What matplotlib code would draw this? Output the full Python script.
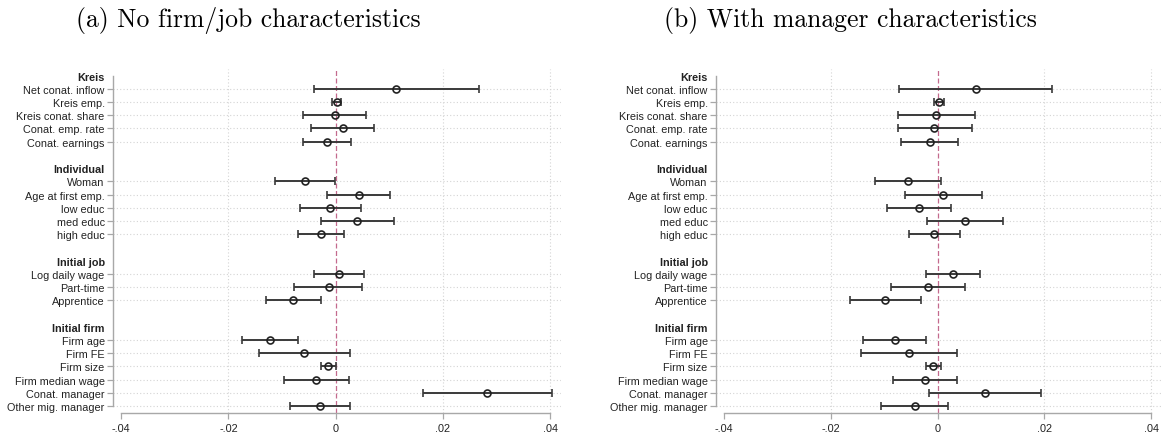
import numpy as np
import matplotlib
matplotlib.use("Agg")
import matplotlib.pyplot as plt

# variable groups (header, items)
group_names = ["Kreis", "Individual", "Initial job", "Initial firm"]
kreis_labels = ["Net conat. inflow", "Kreis emp.", "Kreis conat. share",
                "Conat. emp. rate", "Conat. earnings"]
indiv_labels = ["Woman", "Age at first emp.", "low educ", "med educ", "high educ"]
job_labels = ["Log daily wage", "Part-time", "Apprentice"]
firm_labels = ["Firm age", "Firm FE", "Firm size", "Firm median wage",
               "Conat. manager", "Other mig. manager"]

# (a) No firm/job characteristics
coef_a = [0.0113, 0.0002, -0.0001, 0.0013, -0.0016,
          -0.0058, 0.0043, -0.0010, 0.0040, -0.0028,
          0.0006, -0.0013, -0.0079,
          -0.0123, -0.0059, -0.0014, -0.0036, 0.0283, -0.0030]
lo_a = [-0.0041, -0.0007, -0.0060, -0.0046, -0.0060,
        -0.0113, -0.0016, -0.0067, -0.0027, -0.0071,
        -0.0041, -0.0077, -0.0130,
        -0.0175, -0.0143, -0.0027, -0.0097, 0.0163, -0.0086]
hi_a = [0.0268, 0.0010, 0.0057, 0.0072, 0.0028,
        -0.0002, 0.0102, 0.0047, 0.0108, 0.0016,
        0.0053, 0.0050, -0.0027,
        -0.0070, 0.0026, 0.0000, 0.0024, 0.0404, 0.0027]

# (b) With manager characteristics
coef_b = [0.0071, 0.0003, -0.0003, -0.0006, -0.0015,
          -0.0056, 0.0010, -0.0035, 0.0051, -0.0007,
          0.0029, -0.0018, -0.0098,
          -0.0080, -0.0054, -0.0008, -0.0024, 0.0089, -0.0043]
lo_b = [-0.0072, -0.0006, -0.0075, -0.0075, -0.0068,
        -0.0117, -0.0062, -0.0095, -0.0020, -0.0054,
        -0.0021, -0.0087, -0.0165,
        -0.0139, -0.0143, -0.0022, -0.0084, -0.0017, -0.0106]
hi_b = [0.0214, 0.0012, 0.0069, 0.0064, 0.0039,
        0.0006, 0.0083, 0.0025, 0.0122, 0.0042,
        0.0080, 0.0051, -0.0031,
        -0.0021, 0.0036, 0.0006, 0.0037, 0.0194, 0.0020]

xticks = [-0.04, -0.02, 0, 0.02, 0.04]
xtick_labels = ["-.04", "-.02", "0", ".02", ".04"]

titles = ["(a) No firm/job characteristics", "(b) With manager characteristics"]

# build row layout: header, items, blank line between groups
groups = [kreis_labels, indiv_labels, job_labels, firm_labels]
row_labels, item_rows, header_rows = [], [], []
r = 0
for gi, (name, items) in enumerate(zip(group_names, groups)):
    row_labels.append(name)
    header_rows.append(r)
    r += 1
    for it in items:
        row_labels.append(it)
        item_rows.append(r)
        r += 1
    if gi < len(groups) - 1:
        row_labels.append("")
        r += 1
n_rows = r
item_rows = np.array(item_rows)

plt.rcParams["font.family"] = ["Liberation Sans", "DejaVu Sans"]

fig = plt.figure(figsize=(11.68, 4.39), dpi=100)
axes_pos = [[113 / 1168, 1 - 414 / 439, 448 / 1168, 344 / 439],
            [716 / 1168, 1 - 414 / 439, 446 / 1168, 344 / 439]]
title_x = [248 / 1168, 850 / 1168]

for k, (coef, lo, hi) in enumerate([(coef_a, lo_a, hi_a), (coef_b, lo_b, hi_b)]):
    ax = fig.add_axes(axes_pos[k])
    coef = np.array(coef)
    lo = np.array(lo)
    hi = np.array(hi)
    ax.set_xlim(-0.0415, 0.042)
    ax.set_ylim(n_rows - 1 + 0.53, -0.5)

    # grid
    for xv in [-0.02, 0.02, 0.04]:
        ax.axvline(xv, color="#d4d4d4", lw=0.8, ls=(0, (1, 2)), zorder=0)
    for yv in item_rows:
        ax.axhline(yv, color="#d4d4d4", lw=0.8, ls=(0, (1, 2)), zorder=0)
    ax.axvline(0, color="#c46a8e", lw=0.9, ls=(0, (4, 2)), zorder=1)

    ax.errorbar(coef, item_rows, xerr=[coef - lo, hi - coef], fmt="o",
                color="#3a3a3a", ecolor="#3a3a3a", elinewidth=1.4,
                capsize=2.8, capthick=1.2, markersize=5,
                markerfacecolor="none", markeredgecolor="#222222",
                markeredgewidth=1.2, zorder=3)

    ax.set_yticks(range(n_rows))
    ax.set_yticklabels(row_labels, fontsize=7.8, color="#222222")
    for yi, (tick, lab) in enumerate(zip(ax.yaxis.get_major_ticks(), ax.get_yticklabels())):
        if yi in header_rows:
            lab.set_fontweight("bold")
            tick.tick1line.set_visible(False)
        elif yi not in item_rows:
            tick.tick1line.set_visible(False)
    ax.set_xticks(xticks)
    ax.set_xticklabels(xtick_labels, fontsize=7.8, color="#222222")
    ax.tick_params(axis="both", color="#a8a8a8", length=4, width=0.9)
    ax.tick_params(axis="y", pad=2)
    ax.tick_params(axis="x", pad=3)

    for s in ["top", "right"]:
        ax.spines[s].set_visible(False)
    ax.spines["left"].set_bounds(0, n_rows - 1)
    ax.spines["bottom"].set_bounds(-0.04, 0.04)
    for s in ["left", "bottom"]:
        ax.spines[s].set_color("#a8a8a8")
        ax.spines[s].set_linewidth(1.0)

    fig.text(title_x[k], 1 - 20 / 439, titles[k], family="cmr10",
             fontsize=18.5, ha="center", va="center")

fig.savefig("out.png", dpi=100)
